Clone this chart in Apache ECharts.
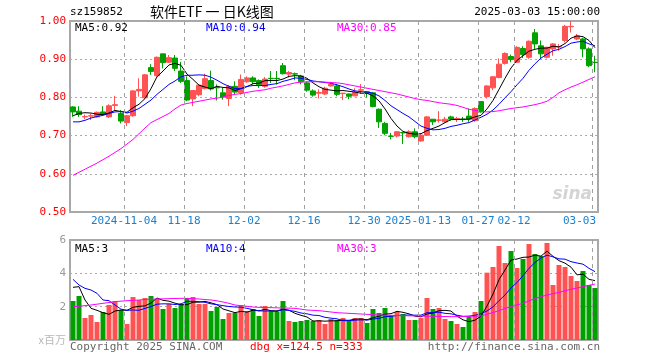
<!DOCTYPE html>
<html><head><meta charset="utf-8">
<script src="https://cdn.jsdelivr.net/npm/echarts@6/dist/echarts.min.js"></script>
<style>html,body{margin:0;padding:0;background:#fff}#c{width:660px;height:360px}</style>
</head><body><div id="c"></div>
<script>
const dates = [
'2024-10-22','2024-10-23','2024-10-24','2024-10-25','2024-10-28','2024-10-29','2024-10-30','2024-10-31','2024-11-01',
'2024-11-04','2024-11-05','2024-11-06','2024-11-07','2024-11-08','2024-11-11','2024-11-12','2024-11-13','2024-11-14','2024-11-15',
'2024-11-18','2024-11-19','2024-11-20','2024-11-21','2024-11-22','2024-11-25','2024-11-26','2024-11-27','2024-11-28','2024-11-29',
'2024-12-02','2024-12-03','2024-12-04','2024-12-05','2024-12-06','2024-12-09','2024-12-10','2024-12-11','2024-12-12','2024-12-13',
'2024-12-16','2024-12-17','2024-12-18','2024-12-19','2024-12-20','2024-12-23','2024-12-24','2024-12-25','2024-12-26','2024-12-27',
'2024-12-30','2024-12-31','2025-01-02','2025-01-03','2025-01-06','2025-01-07','2025-01-08','2025-01-09','2025-01-10',
'2025-01-13','2025-01-14','2025-01-15','2025-01-16','2025-01-17','2025-01-20','2025-01-21','2025-01-22','2025-01-23','2025-01-24',
'2025-01-27','2025-02-05','2025-02-06','2025-02-07','2025-02-10','2025-02-11',
'2025-02-12','2025-02-13','2025-02-14','2025-02-17','2025-02-18','2025-02-19','2025-02-20','2025-02-21','2025-02-24','2025-02-25','2025-02-26','2025-02-27','2025-02-28',
'2025-03-03'];

const opens = [.775,.764,.749,.751,.749,.762,.749,.779,.758,.734,.752,.817,.799,.878,.857,.914,.892,.903,.869,.844,
.796,.807,.823,.844,.826,.812,.797,.829,.812,.841,.851,.844,.829,.850,.850,.883,.861,.862,.856,.838,
.817,.811,.809,.830,.830,.810,.809,.804,.819,.815,.812,.769,.732,.699,.699,.708,.697,.710,.686,.701,
.743,.740,.736,.749,.744,.743,.751,.739,.789,.802,.825,.852,.889,.907,.892,.928,.905,.969,.935,.905,
.927,.932,.949,.985,.953,.953,.927,.892];
const closes = [.762,.755,.750,.752,.761,.756,.778,.781,.738,.752,.817,.821,.859,.868,.905,.891,.904,.876,.842,.793,
.818,.832,.849,.822,.825,.801,.829,.814,.847,.851,.841,.833,.848,.849,.849,.862,.865,.861,.841,.819,
.806,.813,.824,.834,.808,.811,.803,.813,.820,.810,.776,.736,.706,.698,.710,.707,.710,.697,.701,.749,
.736,.741,.743,.743,.745,.742,.743,.771,.762,.830,.854,.887,.915,.899,.931,.912,.947,.940,.914,.931,
.940,.933,.986,.986,.961,.927,.883,.891];
const lows = [.749,.749,.743,.741,.747,.753,.746,.767,.732,.725,.749,.802,.797,.859,.854,.876,.890,.869,.838,.790,
.777,.803,.821,.818,.792,.794,.777,.807,.807,.838,.834,.825,.825,.838,.834,.860,.852,.845,.834,.815,
.802,.797,.806,.828,.803,.793,.795,.803,.809,.800,.774,.720,.701,.690,.695,.678,.695,.693,.684,.699,
.728,.734,.734,.739,.736,.736,.736,.736,.760,.797,.819,.850,.886,.892,.890,.903,.901,.927,.901,.902,
.909,.922,.944,.970,.950,.905,.879,.866];
const highs = [.777,.777,.755,.757,.763,.777,.782,.804,.767,.754,.819,.850,.861,.887,.907,.914,.911,.911,.893,.855,
.819,.834,.862,.870,.834,.825,.832,.842,.860,.855,.855,.847,.853,.869,.869,.890,.869,.865,.859,.841,
.821,.821,.828,.841,.835,.812,.810,.824,.835,.817,.813,.771,.736,.707,.712,.710,.714,.719,.706,.751,
.743,.764,.749,.752,.749,.749,.771,.774,.789,.832,.856,.902,.918,.912,.934,.934,.949,.979,.949,.933,
.942,.940,.990,1.000,.966,.956,.931,.909];

const ma5 = [.752,.758,.760,.759,.756,.755,.759,.766,.763,.761,.773,.782,.797,.823,.854,.869,.885,.889,.884,.861,
.847,.832,.827,.823,.829,.826,.825,.818,.823,.828,.836,.837,.844,.844,.844,.848,.855,.857,.856,.850,
.838,.828,.821,.819,.817,.818,.816,.814,.811,.811,.804,.791,.770,.745,.725,.711,.706,.704,.705,.713,
.719,.725,.734,.742,.742,.743,.743,.749,.753,.770,.792,.821,.850,.877,.897,.909,.921,.926,.929,.929,
.934,.932,.941,.955,.961,.959,.949,.930];
const ma10 = [.736,.736,.740,.746,.750,.753,.758,.762,.763,.759,.764,.771,.782,.793,.808,.821,.834,.843,.854,.858,
.858,.859,.858,.853,.845,.836,.829,.823,.823,.829,.831,.831,.831,.834,.836,.842,.846,.851,.850,.847,
.843,.841,.839,.837,.833,.828,.822,.817,.815,.814,.811,.804,.792,.778,.768,.758,.749,.737,.725,.719,
.715,.716,.719,.724,.727,.731,.734,.741,.748,.756,.767,.782,.799,.815,.833,.850,.871,.888,.903,.913,
.922,.926,.933,.942,.945,.947,.940,.935];
const ma30 = [.596,.604,.612,.620,.628,.637,.646,.656,.666,.678,.690,.705,.720,.734,.742,.750,.758,.770,.780,.784,
.787,.790,.793,.796,.798,.801,.805,.808,.810,.813,.816,.818,.820,.824,.827,.830,.834,.838,.840,.841,
.841,.841,.840,.839,.838,.836,.833,.830,.827,.824,.821,.818,.815,.812,.809,.805,.801,.797,.794,.792,
.789,.786,.784,.782,.779,.774,.769,.766,.763,.762,.763,.765,.768,.771,.773,.775,.778,.781,.785,.790,
.800,.812,.820,.827,.833,.840,.847,.854];

const volumes = [2.34,2.64,1.32,1.5,1.08,1.68,2.1,2.34,1.8,0.96,2.58,2.4,2.52,2.64,2.46,1.86,2.16,1.92,2.16,2.52,
2.58,2.16,2.16,1.74,1.98,1.26,1.62,1.62,2.1,1.74,1.86,1.44,2.04,1.74,1.68,2.34,1.14,1.08,1.14,1.2,
1.14,1.2,0.96,1.26,1.2,1.32,1.14,1.32,1.32,1.02,1.86,1.62,1.92,1.5,1.68,1.56,1.2,1.2,1.32,2.52,
1.86,1.92,1.26,1.14,0.96,0.78,1.38,1.68,2.34,4.04,4.38,5.64,4.62,5.34,4.32,4.86,5.76,5.16,5.04,5.82,
3.3,4.5,4.38,3.84,3.54,4.14,3.3,3.12];
const volMa5 = [3.16,3.2,2.4,1.9,1.78,1.64,1.54,1.74,1.80,1.78,1.96,2.02,2.05,2.22,2.52,2.38,2.33,2.21,2.11,2.12,
2.27,2.27,2.32,2.23,2.12,1.86,1.75,1.64,1.72,1.67,1.79,1.75,1.84,1.76,1.75,1.85,1.79,1.60,1.48,1.38,
1.14,1.15,1.13,1.15,1.15,1.19,1.18,1.25,1.26,1.22,1.33,1.43,1.55,1.58,1.72,1.66,1.57,1.43,1.39,1.56,
1.62,1.76,1.78,1.74,1.43,1.21,1.10,1.19,1.43,2.04,2.76,3.62,4.20,4.80,4.86,4.96,4.98,5.09,5.03,5.33,
5.02,4.76,4.61,4.37,3.91,3.95,3.64,3.56];
const volMa10 = [3.64,3.3,3.1,3.0,2.8,2.4,2.36,2.1,1.85,1.78,1.80,1.78,1.90,2.01,2.15,2.17,2.17,2.13,2.17,2.32,
2.32,2.30,2.26,2.17,2.12,2.06,2.01,1.98,1.97,1.90,1.82,1.75,1.74,1.74,1.71,1.82,1.77,1.72,1.62,1.57,
1.49,1.47,1.36,1.31,1.27,1.16,1.16,1.19,1.21,1.19,1.26,1.30,1.40,1.42,1.47,1.49,1.50,1.49,1.49,1.64,
1.64,1.67,1.60,1.57,1.49,1.42,1.43,1.48,1.58,1.74,1.99,2.36,2.70,3.12,3.45,3.86,4.30,4.65,4.92,5.09,
4.99,4.87,4.85,4.70,4.62,4.55,4.30,4.10];
const volMa30 = [2.0,2.03,2.06,2.1,2.15,2.2,2.25,2.3,2.33,2.36,2.38,2.4,2.43,2.45,2.46,2.47,2.48,2.49,2.5,2.5,
2.48,2.46,2.43,2.4,2.35,2.28,2.2,2.1,2.06,2.02,1.98,1.96,1.95,1.94,1.93,1.92,1.91,1.9,1.85,1.8,
1.78,1.76,1.72,1.68,1.64,1.62,1.6,1.58,1.56,1.54,1.52,1.5,1.49,1.48,1.47,1.46,1.45,1.45,1.44,1.43,
1.42,1.42,1.41,1.4,1.4,1.41,1.42,1.43,1.44,1.55,1.65,1.76,1.9,2.0,2.1,2.2,2.35,2.48,2.6,2.7,
2.78,2.86,2.96,3.04,3.12,3.2,3.28,3.36];

const tickDates  = ['2024-11-04','2024-11-18','2024-12-02','2024-12-16','2024-12-30','2025-01-13','2025-01-27','2025-02-12','2025-03-03'];
const tickLabels = ['2024-11-04','11-18','12-02','12-16','12-30','2025-01-13','01-27','02-12','03-03'];
const legendMain = ['MA5:0.92','MA10:0.94','MA30:0.85'];
const legendVol  = ['MA5:3','MA10:4','MA30:3'];

const UP = '#ff5252', DOWN = '#00a000';
const MONO = '"DejaVu Sans Mono", monospace';
const isTick = (i, v) => tickDates.indexOf(v) >= 0;
const GRIDS = [{left: 70, right: 62, top: 21, height: 191}, {left: 70, right: 62, top: 240, height: 100}];

const candleData = dates.map((d, i) => [opens[i], closes[i], lows[i], highs[i]]);
const volData = volumes.map((v, i) => ({value: v, itemStyle: {color: closes[i] >= opens[i] ? UP : DOWN}}));

const gridLineH = {show: true, lineStyle: {color: '#aaaaaa', type: [2, 3], width: 1}};

function txt(text, x, y, color, align, font) {
  return {type: 'text', x: x, y: y, z: 100,
    style: {text: text, fill: color, font: font || ('11px ' + MONO), align: align || 'left', verticalAlign: 'middle',
            textAlign: align || 'left', textVerticalAlign: 'middle'}};
}

const chart = echarts.init(document.getElementById('c'));
chart.setOption({
  animation: false,
  backgroundColor: '#fff',
  grid: GRIDS.map(g => Object.assign({show: true, borderColor: '#a8a8a8', borderWidth: 2}, g)),
  xAxis: [
    {type: 'category', gridIndex: 0, data: dates, boundaryGap: true,
     axisLine: {show: false}, axisTick: {show: false}, splitLine: {show: false},
     axisLabel: {interval: isTick, margin: 4, color: '#1a80d0', fontFamily: MONO, fontSize: 11,
       formatter: function (v) {
         const k = tickDates.indexOf(v);
         return k === tickDates.length - 1 ? '{b|' + tickLabels[k] + '}' : '{a|' + tickLabels[k] + '}';
       },
       rich: {a: {padding: [0, 6, 0, 0], color: '#1a80d0', fontFamily: MONO, fontSize: 11},
              b: {padding: [0, 31, 0, 0], color: '#1a80d0', fontFamily: MONO, fontSize: 11}}}},
    {type: 'category', gridIndex: 1, data: dates, boundaryGap: true,
     axisLine: {show: false}, axisTick: {show: false}, axisLabel: {show: false}, splitLine: {show: false}}
  ],
  yAxis: [
    {type: 'value', gridIndex: 0, min: 0.5, max: 1.0, interval: 0.1,
     axisLine: {show: false}, axisTick: {show: false},
     axisLabel: {color: '#ff0000', fontFamily: MONO, fontSize: 11, margin: 4, formatter: v => v.toFixed(2)},
     splitLine: gridLineH},
    {type: 'value', gridIndex: 1, min: 0, max: 6, interval: 2,
     axisLine: {show: false}, axisTick: {show: false},
     axisLabel: {color: '#999999', fontFamily: MONO, fontSize: 11, margin: 4, formatter: v => v === 0 ? '' : String(v)},
     splitLine: gridLineH}
  ],
  series: [
    {type: 'candlestick', xAxisIndex: 0, yAxisIndex: 0, data: candleData, barWidth: 5,
     itemStyle: {color: UP, color0: DOWN, borderColor: UP, borderColor0: DOWN, borderWidth: 1}},
    {type: 'line', xAxisIndex: 0, yAxisIndex: 0, data: ma5, showSymbol: false, symbol: 'none', lineStyle: {color: '#000000', width: 1}},
    {type: 'line', xAxisIndex: 0, yAxisIndex: 0, data: ma10, showSymbol: false, symbol: 'none', lineStyle: {color: '#0000ff', width: 1}},
    {type: 'line', xAxisIndex: 0, yAxisIndex: 0, data: ma30, showSymbol: false, symbol: 'none', lineStyle: {color: '#ff00ff', width: 1}},
    {type: 'bar', xAxisIndex: 1, yAxisIndex: 1, data: volData, barWidth: 5},
    {type: 'line', xAxisIndex: 1, yAxisIndex: 1, data: volMa5, showSymbol: false, symbol: 'none', lineStyle: {color: '#000000', width: 1}},
    {type: 'line', xAxisIndex: 1, yAxisIndex: 1, data: volMa10, showSymbol: false, symbol: 'none', lineStyle: {color: '#0000ff', width: 1}},
    {type: 'line', xAxisIndex: 1, yAxisIndex: 1, data: volMa30, showSymbol: false, symbol: 'none', lineStyle: {color: '#ff00ff', width: 1}}
  ]
});

// vertical dashed guides at tick dates, positioned through the category axis scale
const guides = [];
let firstX = null;
GRIDS.forEach((g, gi) => {
  const p0 = chart.convertToPixel({xAxisIndex: gi}, dates[0]);
  const p1 = chart.convertToPixel({xAxisIndex: gi}, dates[1]);
  const band = p1 - p0;
  tickDates.forEach(d => {
    const x = Math.round(chart.convertToPixel({xAxisIndex: gi}, d) - band / 2) + 0.5;
    if (firstX === null) firstX = x;
    for (let y = g.top; y < g.top + g.height; y += 8) {
      guides.push({type: 'line', z: 50,
        shape: {x1: x, y1: y, x2: x, y2: Math.min(y + 4, g.top + g.height)},
        style: {stroke: '#a0a0a0', lineWidth: 1}});
    }
  });
});

chart.setOption({graphic: {elements: guides.concat([
  txt('sz159852', 70, 12, '#000000'),
  txt('软件ETF 一 日K线图', 150, 12, '#000000', 'left', '14px "Noto Sans CJK SC"'),
  txt('2025-03-03 15:00:00', 600, 12, '#000000', 'right'),
  txt(legendMain[0], 75, 28, '#000000'),
  txt(legendMain[1], 206, 28, '#0000ff'),
  txt(legendMain[2], 337, 28, '#ff00ff'),
  txt(legendVol[0], 75, 249, '#000000'),
  txt(legendVol[1], 206, 249, '#0000ff'),
  txt(legendVol[2], 337, 249, '#ff00ff'),
  txt('x百万', 66, 340, '#b8b8b8', 'right', '11px "Noto Sans CJK SC"'),
  txt('Copyright 2025 SINA.COM', 70, 347, '#666666'),
  txt('http://finance.sina.com.cn', 600, 347, '#666666', 'right'),
  txt('sina', 592, 195, '#d4d4d4', 'right', 'italic bold 17px "DejaVu Sans"'),
  txt('dbg x=' + firstX + ' n=' + guides.length, 250, 347, '#ff0000')
])}});
</script></body></html>
